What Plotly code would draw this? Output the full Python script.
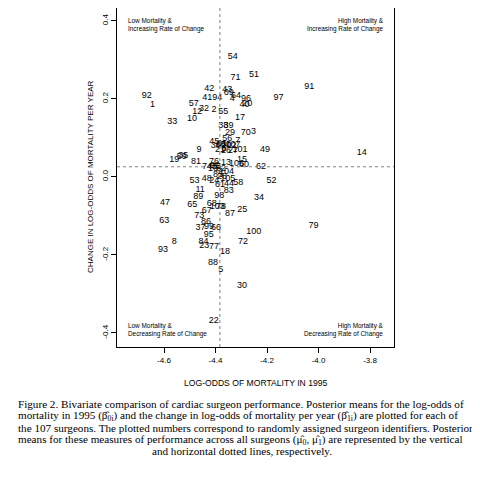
import plotly.graph_objects as go

# Surgeon identifiers and posterior means
surgeon_ids = [
    "54", "71", "51", "42", "92", "1", "57", "41", "94", "43",
    "69", "64", "4", "96", "40", "20", "97", "12", "32", "2",
    "55", "33", "10", "17", "38", "39", "29", "70", "3", "56",
    "45", "7", "9", "49", "36", "80", "50", "107", "27", "101",
    "26", "21", "6", "31", "102", "19", "35", "59", "81", "76",
    "74", "46", "75", "90", "16", "82", "13", "15", "106", "60",
    "62", "53", "48", "24", "104", "85", "28", "61", "105", "44",
    "58", "83", "52", "11", "89", "98", "34", "47", "65", "68",
    "103", "78", "87", "25", "67", "73", "63", "86", "37", "99",
    "66", "95", "100", "72", "8", "84", "23", "77", "93", "18",
    "88", "5", "30", "22", "91", "14", "79",
]
log_odds_1995 = [
    -4.333, -4.322, -4.251, -4.424, -4.667, -4.645, -4.484, -4.432, -4.393, -4.354,
    -4.349, -4.320, -4.335, -4.282, -4.287, -4.277, -4.155, -4.471, -4.445, -4.406,
    -4.370, -4.568, -4.491, -4.305, -4.370, -4.350, -4.344, -4.283, -4.252, -4.354,
    -4.405, -4.314, -4.464, -4.208, -4.399, -4.379, -4.359, -4.332, -4.332, -4.305,
    -4.359, -4.383, -4.367, -4.375, -4.348, -4.560, -4.525, -4.531, -4.476, -4.406,
    -4.433, -4.414, -4.398, -4.402, -4.410, -4.379, -4.359, -4.297, -4.318, -4.289,
    -4.223, -4.482, -4.434, -4.405, -4.357, -4.390, -4.375, -4.383, -4.352, -4.348,
    -4.312, -4.349, -4.183, -4.460, -4.467, -4.385, -4.231, -4.596, -4.490, -4.415,
    -4.393, -4.379, -4.344, -4.296, -4.434, -4.463, -4.599, -4.437, -4.458, -4.425,
    -4.398, -4.426, -4.251, -4.293, -4.560, -4.447, -4.444, -4.406, -4.604, -4.363,
    -4.410, -4.380, -4.297, -4.407, -4.036, -3.832, -4.020,
]
change_per_year = [
    0.308, 0.255, 0.261, 0.227, 0.207, 0.184, 0.188, 0.203, 0.203, 0.223,
    0.215, 0.209, 0.201, 0.201, 0.186, 0.187, 0.203, 0.168, 0.174, 0.173,
    0.166, 0.142, 0.148, 0.151, 0.130, 0.130, 0.114, 0.114, 0.117, 0.099,
    0.090, 0.092, 0.070, 0.070, 0.079, 0.082, 0.082, 0.082, 0.066, 0.069,
    0.066, 0.069, 0.072, 0.084, 0.079, 0.044, 0.053, 0.051, 0.038, 0.039,
    0.026, 0.026, 0.026, 0.028, 0.020, 0.022, 0.036, 0.044, 0.033, 0.031,
    0.026, -0.011, -0.005, -0.011, 0.012, 0.005, 0.000, -0.020, -0.005, -0.017,
    -0.015, -0.035, -0.010, -0.034, -0.051, -0.049, -0.054, -0.067, -0.072, -0.070,
    -0.077, -0.076, -0.094, -0.084, -0.087, -0.100, -0.112, -0.115, -0.131, -0.128,
    -0.131, -0.148, -0.140, -0.165, -0.166, -0.167, -0.176, -0.179, -0.186, -0.193,
    -0.220, -0.239, -0.278, -0.368, 0.232, 0.061, -0.126,
]

mean_log_odds = -4.383
mean_change = 0.026

x_ticks = [-4.6, -4.4, -4.2, -4.0, -3.8]
x_tick_text = ["-4.6", "-4.4", "-4.2", "-4.0", "-3.8"]
y_ticks = [-0.4, -0.2, 0.0, 0.2, 0.4]
y_tick_text = ["-0.4", "-0.2", "0.0", "0.2", "0.4"]

x_range = [-4.7825, -3.707]
y_range = [-0.436, 0.433]

FONT = "Liberation Sans"
SERIF = "Liberation Serif"

# page offset of the plot div (default body margin)
OFF = 8

fig = go.Figure()

fig.add_trace(go.Scatter(
    x=log_odds_1995, y=change_per_year, mode="text", text=surgeon_ids,
    textposition="middle center",
    textfont=dict(family=FONT, size=9, color="black"),
    hoverinfo="skip", showlegend=False,
))

# posterior means (dotted)
fig.add_shape(type="line", xref="x", yref="paper", x0=mean_log_odds, x1=mean_log_odds,
              y0=0, y1=1, line=dict(color="#808080", width=1, dash="dot"))
fig.add_shape(type="line", xref="paper", yref="y", x0=0, x1=1,
              y0=mean_change, y1=mean_change, line=dict(color="#808080", width=1, dash="dot"))

fig.update_xaxes(range=x_range, tickvals=x_ticks, ticktext=x_tick_text,
                 showgrid=False, zeroline=False, showline=True, mirror=True,
                 linecolor="black", linewidth=1, ticks="outside", ticklen=5,
                 tickcolor="black", tickfont=dict(family=FONT, size=8, color="black"))
fig.update_yaxes(range=y_range, tickvals=y_ticks, ticktext=y_tick_text,
                 showgrid=False, zeroline=False, showline=True, mirror=True,
                 linecolor="black", linewidth=1, ticks="outside", ticklen=5,
                 tickcolor="black", tickangle=-90,
                 tickfont=dict(family=FONT, size=8, color="black"))

# plot box in page pixels (reference), converted to figure pixels
L, R, T, B = 117 - OFF, 394 - OFF, 8 - OFF, 347 - OFF
W = R - L
H = B - T

def px(x):
    return (x - OFF - L) / W

def py(y):
    return (B - (y - OFF)) / H

ann = []
ann.append(dict(x=px(90), y=py(177), xref="paper", yref="paper", text="CHANGE IN LOG-ODDS OF MORTALITY PER YEAR",
                textangle=-90, showarrow=False, font=dict(family=FONT, size=8, color="black"),
                xanchor="center", yanchor="middle"))
ann.append(dict(x=px(255), y=py(383), xref="paper", yref="paper", text="LOG-ODDS OF MORTALITY IN 1995",
                showarrow=False, font=dict(family=FONT, size=8.6, color="black"),
                xanchor="center", yanchor="middle"))

corner_font = dict(family=FONT, size=6.4, color="black")
ann.append(dict(x=px(126), y=py(15), xref="paper", yref="paper",
                text="Low Mortality &amp;<br>Increasing Rate of Change", align="left",
                xanchor="left", yanchor="top", showarrow=False, font=corner_font))
ann.append(dict(x=px(386), y=py(15), xref="paper", yref="paper",
                text="High Mortality &amp;<br>Increasing Rate of Change", align="right",
                xanchor="right", yanchor="top", showarrow=False, font=corner_font))
ann.append(dict(x=px(126), y=py(340), xref="paper", yref="paper",
                text="Low Mortality &amp;<br>Decreasing Rate of Change", align="left",
                xanchor="left", yanchor="bottom", showarrow=False, font=corner_font))
ann.append(dict(x=px(386), y=py(340), xref="paper", yref="paper",
                text="High Mortality &amp;<br>Decreasing Rate of Change", align="right",
                xanchor="right", yanchor="bottom", showarrow=False, font=corner_font))

caption_lines = [
    "Figure 2. Bivariate comparison of cardiac surgeon performance. Posterior means for the log-odds of",
    "mortality in 1995 (β\u0302<sub>0i</sub>) and the change in log-odds of mortality per year (β\u0302<sub>1i</sub>) are plotted for each of",
    "the 107 surgeons. The plotted numbers correspond to randomly assigned surgeon identifiers. Posterior",
    "means for these measures of performance across all surgeons (μ\u0302<sub>0</sub>, μ\u0302<sub>1</sub>) are represented by the vertical",
]
cap_y = [404, 416, 428, 440]
for line, yy in zip(caption_lines, cap_y):
    ann.append(dict(x=px(16), y=py(yy), xref="paper", yref="paper", text=line,
                    xanchor="left", yanchor="middle", showarrow=False,
                    font=dict(family=SERIF, size=11.15, color="black")))
ann.append(dict(x=px(242), y=py(451), xref="paper", yref="paper",
                text="and horizontal dotted lines, respectively.",
                xanchor="center", yanchor="middle", showarrow=False,
                font=dict(family=SERIF, size=11.15, color="black")))

fig.update_layout(
    width=480, height=480,
    margin=dict(l=L, r=480 - R, t=T, b=480 - B),
    paper_bgcolor="white", plot_bgcolor="white",
    annotations=ann,
    showlegend=False,
)

fig.write_html("out.html")
